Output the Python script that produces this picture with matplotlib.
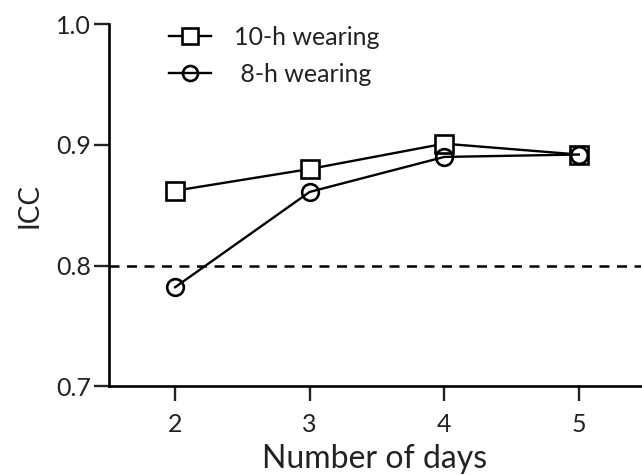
import matplotlib
matplotlib.use("Agg")
import matplotlib.pyplot as plt

days = [2, 3, 4, 5]
icc_10h = [0.862, 0.880, 0.901, 0.892]
icc_8h = [0.782, 0.861, 0.890, 0.892]
labels = ["10-h wearing", " 8-h wearing"]
threshold = 0.8

plt.rcParams["font.family"] = ["Lato", "DejaVu Sans"]

fig = plt.figure(figsize=(6.42, 4.75), dpi=100)
ax = fig.add_axes([0.170, 0.187, 0.828, 0.762])

ax.plot(days, icc_10h, color="black", lw=1.7, marker="s", ms=13,
        mfc="white", mec="black", mew=1.9, label=labels[0], zorder=3)
ax.plot(days, icc_8h, color="black", lw=1.7, marker="o", ms=12,
        mfc="none", mec="black", mew=1.9, label=labels[1], zorder=4)
ax.axhline(threshold, color="black", lw=1.8, ls=(0, (4, 3)), zorder=1)

ax.set_xlim(1.51, 5.46)
ax.set_ylim(0.7, 1.0)
ax.set_xticks(days)
ax.set_yticks([0.7, 0.8, 0.9, 1.0])
ax.set_yticklabels(["0.7", "0.8", "0.9", "1.0"])

for side in ["top", "right"]:
    ax.spines[side].set_visible(False)
for side in ["left", "bottom"]:
    ax.spines[side].set_linewidth(1.9)
ax.tick_params(direction="out", length=11, width=1.7, labelsize=18,
               colors="#222222", pad=2)
ax.tick_params(axis="x", pad=8)

ax.set_xlabel("Number of days", fontsize=23, labelpad=6, color="#222222")
ax.set_ylabel("ICC", fontsize=20, labelpad=10, color="#222222")

leg = ax.legend(loc="upper left", bbox_to_anchor=(0.07, 1.057), frameon=False,
                fontsize=18, handlelength=1.7, handletextpad=0.9,
                labelspacing=0.55, markerscale=0.9)
for t in leg.get_texts():
    t.set_color("#222222")

fig.savefig("out.png", dpi=100)
